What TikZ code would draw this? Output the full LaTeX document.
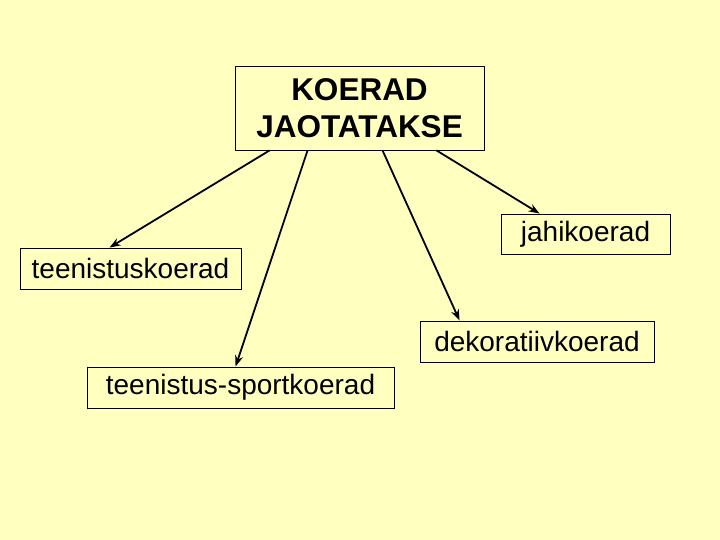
\documentclass[tikz,border=0pt]{standalone}
\usepackage{fontspec}
\setmainfont{Liberation Sans}
\usetikzlibrary{arrows.meta,calc}
\definecolor{bg}{HTML}{FFFFC0}
\begin{document}
\begin{tikzpicture}[x=1pt,y=-1pt,
  box/.style={draw=black,line width=0.9pt,fill=bg,inner sep=0pt,anchor=center},
  lbl/.style={font=\fontsize{28}{32}\selectfont},
  arr/.style={draw=black,line width=1.8pt,-{Stealth[length=11pt,width=8pt]}}]
\fill[bg] (0,0) rectangle (720,540);
\useasboundingbox (0,0) rectangle (720,540);
\node[box,minimum width=249pt,minimum height=84pt,align=center,
  font=\bfseries\fontsize{31.5}{37}\selectfont] (top) at (359.5,108) {KOERAD\\JAOTATAKSE};
\node[box,lbl,minimum width=221pt,minimum height=41pt] (ts) at (130.5,268.5) {teenistuskoerad};
\node[box,lbl,minimum width=169pt,minimum height=40pt] (jk) at (585.5,234) {jahikoerad};
\node[box,lbl,minimum width=234pt,minimum height=41pt] (dk) at (537,341.5) {dekoratiivkoerad};
\node[box,lbl,minimum width=307pt,minimum height=41pt] (sp) at (240.5,387.5) {teenistus-sportkoerad};
\draw[arr] ([xshift=35pt]top.south west) -- ([xshift=90pt]ts.north west);
\draw[arr] ([xshift=73pt]top.south west) -- ([xshift=149pt]sp.north west);
\draw[arr] ([xshift=148pt]top.south west) -- ([xshift=40pt]dk.north west);
\draw[arr] ([xshift=202pt]top.south west) -- ([xshift=39pt]jk.north west);
\end{tikzpicture}
\end{document}
